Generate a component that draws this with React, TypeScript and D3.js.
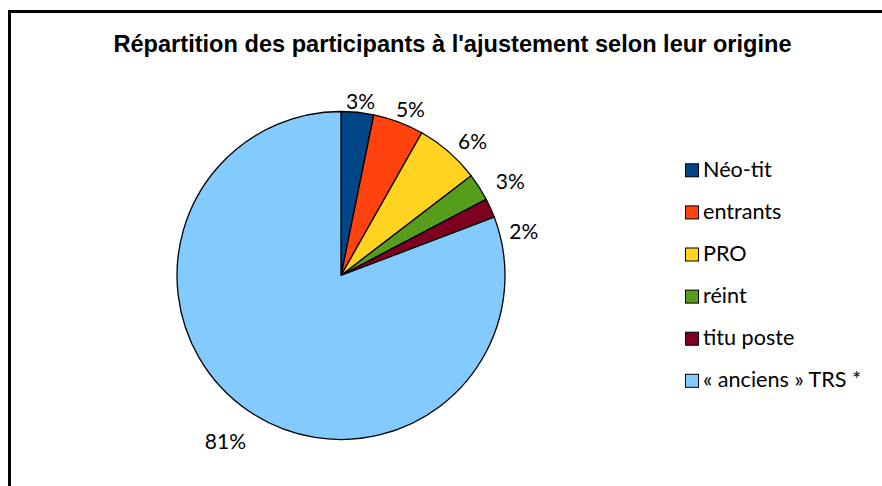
import React from "react";
import * as d3 from "d3";

const categories = ["Néo-tit", "entrants", "PRO", "réint", "titu poste", "« anciens » TRS *"];
const values = [3.2, 5.0, 6.4, 2.7, 1.9, 80.8];
const pctLabels = ["3%", "5%", "6%", "3%", "2%", "81%"];
const colors = ["#004586", "#ff420e", "#ffd320", "#579d1c", "#7e0021", "#83caff"];
const title = "Répartition des participants à l'ajustement selon leur origine";

const W = 882;
const H = 486;
const cx = 341;
const cy = 275.5;
const R = 164;
const labelFont = "Lato, 'Noto Sans', sans-serif";
const labelSize = 21;
const legendSize = 21.6;

export default function App() {
  const pie = d3.pie<number>().sort(null).value((d) => d)(values);
  const arc = d3.arc<d3.PieArcDatum<number>>().innerRadius(0).outerRadius(R);

  // label placement: outside end, box pushed out along mid angle
  const labelPos: { x: number; y: number }[] = [];
  pie.forEach((p, i) => {
    const a = (p.startAngle + p.endAngle) / 2;
    const s = Math.sin(a);
    const c = Math.cos(a);
    const hw = pctLabels[i].length * 6.8;
    const hh = 10;
    const dist = R + 8 + Math.abs(s) * hw + Math.abs(c) * hh;
    const x = cx + s * dist + s * 12;
    let y = cy - c * dist + 8;
    if (i > 0 && s > 0 && labelPos[i - 1]) {
      const prev = labelPos[i - 1];
      if (Math.abs(y - prev.y) < 40 && Math.abs(x - prev.x) < 40) y = prev.y + 50;
    }
    labelPos.push({ x, y });
  });

  const legendX = 685;
  const legendY0 = 170.3;
  const legendStep = 42.1;

  return (
    <svg
      width={W}
      height={H}
      style={{ position: "absolute", left: 0, top: 0, background: "#fff" }}
    >
      <rect x={0} y={0} width={W} height={H} fill="#fff" />
      <rect x={9.5} y={11.5} width={W + 20} height={H + 20} fill="none" stroke="#000" strokeWidth={3} />
      <text
        x={452.5}
        y={51.7}
        textAnchor="middle"
        fontFamily="'Liberation Sans', Arial, sans-serif"
        fontWeight="bold"
        fontSize={23.6}
        fill="#000"
      >
        {title}
      </text>
      <g transform={`translate(${cx},${cy})`}>
        {pie.map((p, i) => (
          <path key={i} d={arc(p) || ""} fill={colors[i]} stroke="#000" strokeWidth={1.3} strokeLinejoin="round" />
        ))}
      </g>
      {pie.map((p, i) => (
        <text
          key={i}
          x={labelPos[i].x}
          y={labelPos[i].y + 7.5}
          textAnchor="middle"
          fontFamily={labelFont}
          fontSize={labelSize}
          fill="#000"
        >
          {pctLabels[i]}
        </text>
      ))}
      {categories.map((c, i) => {
        const yc = legendY0 + i * legendStep;
        return (
          <g key={c}>
            <rect x={legendX + 0.5} y={yc - 6.5} width={13} height={13} fill={colors[i]} stroke="#000" strokeWidth={1} />
            <text x={legendX + 18} y={yc + 6.5} fontFamily={labelFont} fontSize={legendSize} fill="#000">
              {c}
            </text>
          </g>
        );
      })}
    </svg>
  );
}
